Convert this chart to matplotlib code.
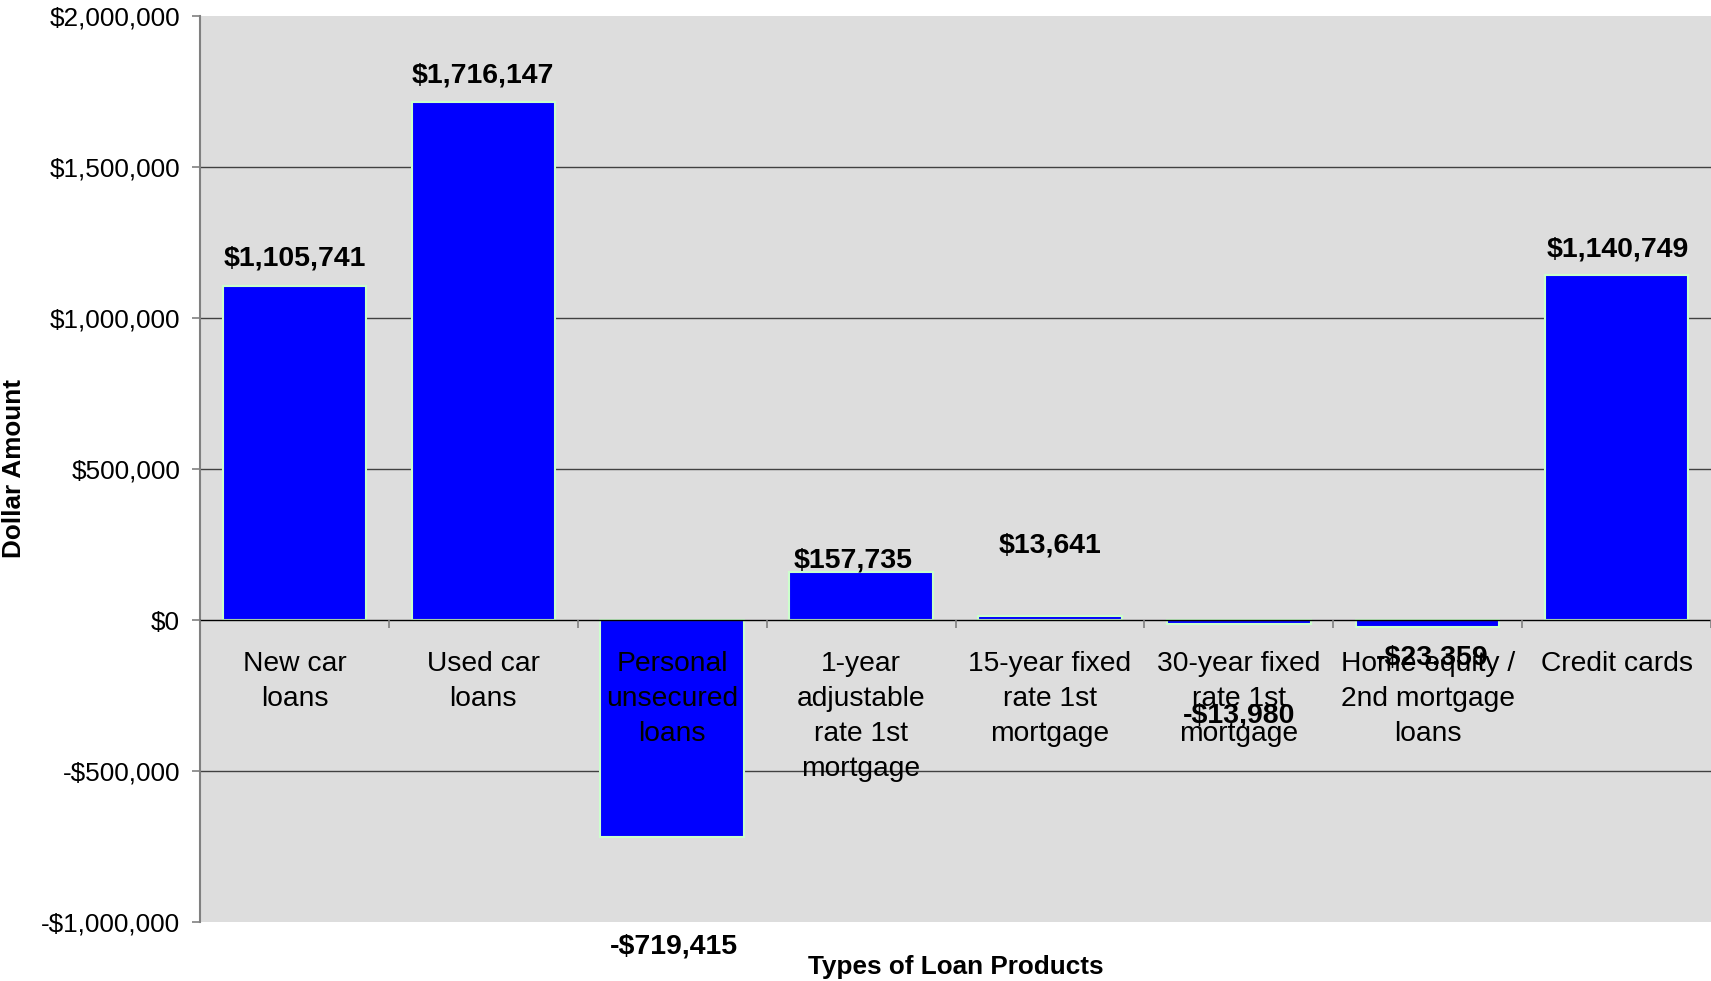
import matplotlib
matplotlib.use("Agg")
import matplotlib.pyplot as plt
from matplotlib.ticker import FuncFormatter, MultipleLocator

plt.rcParams['font.family'] = ['Liberation Sans', 'DejaVu Sans']

# loan products and their dollar amounts
categories = [
    "New car\nloans",
    "Used car\nloans",
    "Personal\nunsecured\nloans",
    "1-year\nadjustable\nrate 1st\nmortgage",
    "15-year fixed\nrate 1st\nmortgage",
    "30-year fixed\nrate 1st\nmortgage",
    "Home equity /\n2nd mortgage\nloans",
    "Credit cards",
]
amounts = [1105741, 1716147, -719415, 157735, 13641, -13980, -23359, 1140749]

# where each value label sits, in points away from the bar end
label_dy = [19.5, 19, 78.5, 8.5, 51, 65.5, 22, 18.5]
label_dx = [0, 0, 1, -5.5, 0, 0, 3, 1]


def money(v, pos=None):
    s = "${:,.0f}".format(abs(v))
    return "-" + s if v < 0 else s


fig = plt.figure(figsize=(17.11, 9.81), dpi=100)
ax = fig.add_axes([200 / 1711, 1 - 922 / 981, 1 - 200 / 1711, (922 - 16) / 981])
ax.set_facecolor('#dddddd')

x = list(range(len(categories)))
ax.bar(x, amounts, width=0.76, color='#0000ff', edgecolor='#ccffcc', linewidth=1.5, zorder=2)

ax.set_xlim(-0.5, len(categories) - 0.5)
ax.set_ylim(-1000000, 2000000)
ax.yaxis.set_major_locator(MultipleLocator(500000))
ax.yaxis.set_major_formatter(FuncFormatter(money))

# gridlines sit behind the bars, category text stays on top
for yv in ax.get_yticks():
    if -1000000 < yv < 2000000 and yv != 0:
        ax.axhline(yv, color='#404040', linewidth=1.0, zorder=1)

# category axis runs along zero
for side in ('top', 'right'):
    ax.spines[side].set_visible(False)
ax.spines['bottom'].set_position(('data', 0))
ax.spines['bottom'].set_color('black')
ax.spines['bottom'].set_linewidth(1.0)
ax.spines['bottom'].set_zorder(3)
ax.spines['left'].set_color('#808080')
ax.spines['left'].set_linewidth(1.5)

ax.set_xticks(x)
ax.set_xticklabels(categories, fontsize=20.3, linespacing=1.45)
ax.xaxis.set_zorder(4)
ax.set_xticks([i + 0.5 for i in range(-1, len(categories))], minor=True)
ax.tick_params(axis='x', which='major', length=0, pad=22.5)
ax.tick_params(axis='x', which='minor', length=5.5, width=1.2, color='#808080', direction='out')
ax.tick_params(axis='y', labelsize=18.8, length=5.8, width=1.2, color='#808080', pad=8.5)

for i, v in enumerate(amounts):
    sign = 1 if v >= 0 else -1
    ax.annotate(money(v), (i, v), xytext=(label_dx[i], sign * label_dy[i]),
                textcoords='offset points', ha='center', va='center',
                fontsize=20.5, fontweight='bold', zorder=5)

fig.text(955.5 / 1711, 1 - 967 / 981, "Types of Loan Products", ha='center', va='center',
         fontsize=18.8, fontweight='bold')
fig.text(14 / 1711, 1 - 469 / 981, "Dollar Amount", ha='center', va='center',
         rotation=90, fontsize=18.8, fontweight='bold')

fig.savefig('out.png', dpi=100)
